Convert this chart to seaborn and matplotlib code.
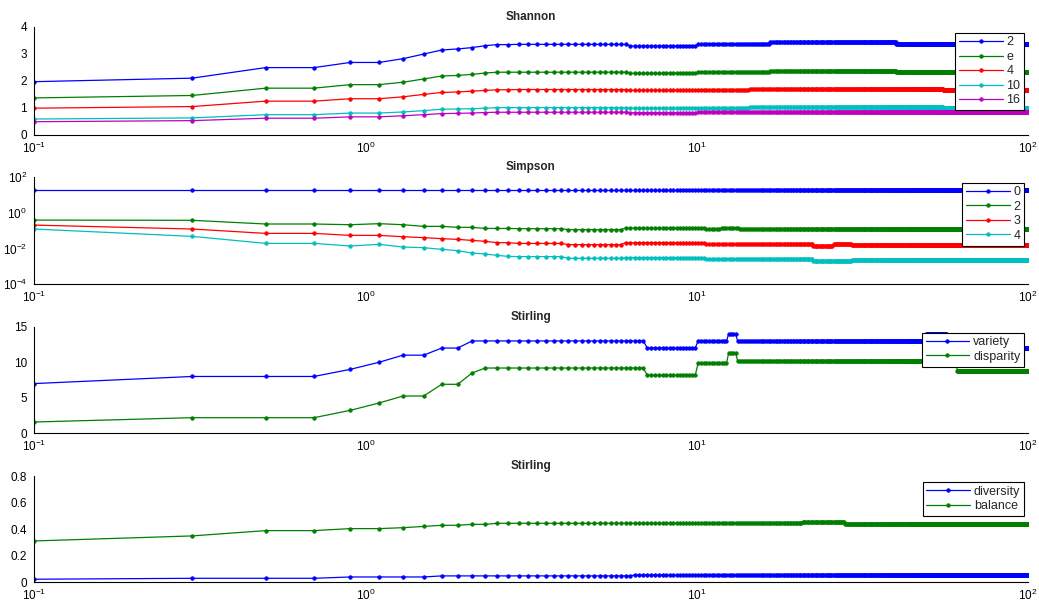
import numpy as np
import matplotlib
matplotlib.use("Agg")
import matplotlib.pyplot as plt
import seaborn as sns

sns.set_style("white")
plt.rcParams['font.family'] = ['Liberation Sans', 'DejaVu Sans']
plt.rcParams['mathtext.default'] = 'regular'

# x grid: 0.1 to 99.9, step 0.2 (500 samples)
x_start, x_step, n_points = 0.1, 0.2, 500
x = x_start + x_step * np.arange(n_points)

# values are stored as runs: each value is repeated `counts` times
# --- Shannon ---
shannon_counts = [1, 1, 1, 1, 1, 1, 1, 1, 1, 1, 1, 1, 1, 1, 17, 19, 22, 11, 117, 77, 223]
shannon_2 = [1.97, 2.10, 2.49, 2.49, 2.68, 2.68, 2.82, 2.99, 3.14, 3.18, 3.23, 3.30, 3.34, 3.34,
             3.35, 3.29, 3.36, 3.38, 3.42, 3.38, 3.35]
shannon_e = [1.37, 1.46, 1.73, 1.73, 1.86, 1.86, 1.95, 2.07, 2.18, 2.20, 2.24, 2.29, 2.32, 2.32,
             2.32, 2.28, 2.33, 2.34, 2.37, 2.34, 2.32]
shannon_4 = [0.99, 1.05, 1.25, 1.25, 1.34, 1.34, 1.41, 1.50, 1.57, 1.59, 1.62, 1.65, 1.67, 1.67,
             1.68, 1.65, 1.68, 1.69, 1.71, 1.69, 1.68]
shannon_10 = [0.59, 0.63, 0.75, 0.75, 0.81, 0.81, 0.85, 0.90, 0.95, 0.96, 0.97, 0.99, 1.01, 1.01,
              1.01, 0.99, 1.01, 1.02, 1.03, 1.02, 1.01]
shannon_16 = [0.49, 0.53, 0.62, 0.62, 0.67, 0.67, 0.71, 0.75, 0.79, 0.80, 0.81, 0.83, 0.84, 0.84,
              0.84, 0.82, 0.84, 0.85, 0.86, 0.85, 0.84]
shannon_labels = ['2', 'e', '4', '10', '16']

# --- Simpson ---
simpson_counts = [1, 1, 1, 1, 1, 1, 1, 1, 1, 1, 1, 1, 1, 1, 6, 10, 23, 6, 8, 45, 17, 18, 353]
simpson_0 = [19] * 23
simpson_2 = [0.38, 0.37, 0.23, 0.23, 0.21, 0.24, 0.21, 0.17, 0.17, 0.15, 0.15, 0.13, 0.13, 0.13,
             0.126, 0.111, 0.137, 0.116, 0.14, 0.118, 0.118, 0.118, 0.118]
simpson_3 = [0.20, 0.121, 0.069, 0.069, 0.0535, 0.0535, 0.045, 0.040, 0.035, 0.032, 0.028, 0.0248,
             0.0209, 0.0209, 0.019, 0.0162, 0.021, 0.0168, 0.0168, 0.0168, 0.0141, 0.0168, 0.0165]
simpson_4 = [0.121, 0.047, 0.0192, 0.0192, 0.0136, 0.0169, 0.012, 0.011, 0.0089, 0.0075, 0.0055,
             0.0049, 0.0041, 0.0036, 0.0035, 0.0028, 0.0031, 0.0026, 0.0026, 0.0026, 0.0020,
             0.0020, 0.00225]
simpson_labels = ['0', '2', '3', '4']

# --- Stirling (variety / disparity) ---
stirling_counts = [1, 1, 1, 1, 1, 1, 1, 1, 1, 1, 1, 1, 1, 1, 21, 15, 12, 4, 180, 38, 21, 195]
variety = [7, 8, 8, 8, 9, 10, 11, 11, 12, 12, 13, 13, 13, 13, 13, 12, 13, 14, 13, 14, 13, 12]
disparity = [1.59, 2.2, 2.2, 2.2, 3.23, 4.27, 5.25, 5.25, 6.9, 6.9, 8.49, 9.19, 9.19, 9.19,
             9.19, 8.16, 9.84, 11.35, 10.17, 11.35, 10.17, 8.77]

# --- Stirling (diversity / balance) ---
balance_counts = [1, 1, 1, 1, 1, 1, 1, 1, 1, 1, 1, 1, 1, 1, 18, 72, 36, 360]
diversity = [0.023, 0.030, 0.030, 0.030, 0.040, 0.040, 0.040, 0.040, 0.048, 0.048, 0.048, 0.048,
             0.048, 0.048, 0.048, 0.055, 0.055, 0.055]
balance = [0.311, 0.349, 0.389, 0.389, 0.404, 0.404, 0.411, 0.421, 0.429, 0.429, 0.436, 0.436,
           0.444, 0.444, 0.444, 0.444, 0.456, 0.441]

colors = ['#0000ff', '#007f00', '#ff0000', '#00bfbf', '#bf00bf']

panels = [
    ('Shannon', shannon_counts, [shannon_2, shannon_e, shannon_4, shannon_10, shannon_16],
     shannon_labels),
    ('Simpson', simpson_counts, [simpson_0, simpson_2, simpson_3, simpson_4], simpson_labels),
    ('Stirling', stirling_counts, [variety, disparity], ['variety', 'disparity']),
    ('Stirling', balance_counts, [diversity, balance], ['diversity', 'balance']),
]

fig = plt.figure(figsize=(10.39, 6.08), dpi=100)
left, width = 0.0327, 0.9567
bottoms = [0.778, 0.5324, 0.2873, 0.0423]
heights = [0.178, 0.177, 0.1753, 0.1748]

for i, (title, counts, series, labels) in enumerate(panels):
    ax = fig.add_axes([left, bottoms[i], width, heights[i]])
    for j, (vals, lab) in enumerate(zip(series, labels)):
        y = np.repeat(vals, counts)
        sns.lineplot(x=x, y=y, ax=ax, color=colors[j], label=lab, linewidth=0.9,
                     marker='.', markersize=5, markeredgecolor=colors[j],
                     markeredgewidth=0.6, errorbar=None)
    ax.set_xscale('log')
    ax.set_xlim(0.1, 100)
    ax.set_xticks([0.1, 1, 10, 100])
    ax.minorticks_off()
    ax.set_title(title, fontweight='bold', fontsize=8.5, pad=5)
    ax.set_xlabel('')
    ax.set_ylabel('')
    if i == 0:
        ax.set_ylim(0, 4)
        ax.set_yticks([0, 1, 2, 3, 4])
        ax.set_yticklabels(['0', '1', '2', '3', '4'])
    elif i == 1:
        ax.set_yscale('log')
        ax.set_ylim(1e-4, 1e2)
        ax.set_yticks([1e-4, 1e-2, 1e0, 1e2])
        ax.minorticks_off()
    elif i == 2:
        ax.set_ylim(0, 15)
        ax.set_yticks([0, 5, 10, 15])
        ax.set_yticklabels(['0', '5', '10', '15'])
    else:
        ax.set_ylim(0, 0.8)
        ax.set_yticks([0, 0.2, 0.4, 0.6, 0.8])
        ax.set_yticklabels(['0', '0.2', '0.4', '0.6', '0.8'])
    for s in ['top', 'right']:
        ax.spines[s].set_visible(False)
    for s in ['left', 'bottom']:
        ax.spines[s].set_color('black')
        ax.spines[s].set_linewidth(0.8)
    ax.tick_params(axis='both', direction='in', length=3, labelsize=8.5, colors='black')
    ax.tick_params(axis='x', pad=4)
    ax.tick_params(axis='y', pad=5)
    leg = ax.legend(loc='upper right', bbox_to_anchor=(0.996, 0.945), fontsize=9,
                    frameon=True, fancybox=False, framealpha=1, edgecolor='black',
                    handlelength=3.5, handletextpad=0.3, labelspacing=0.2,
                    borderpad=0.3, borderaxespad=0)
    leg.get_frame().set_linewidth(0.8)

fig.savefig('out.png', dpi=100)
